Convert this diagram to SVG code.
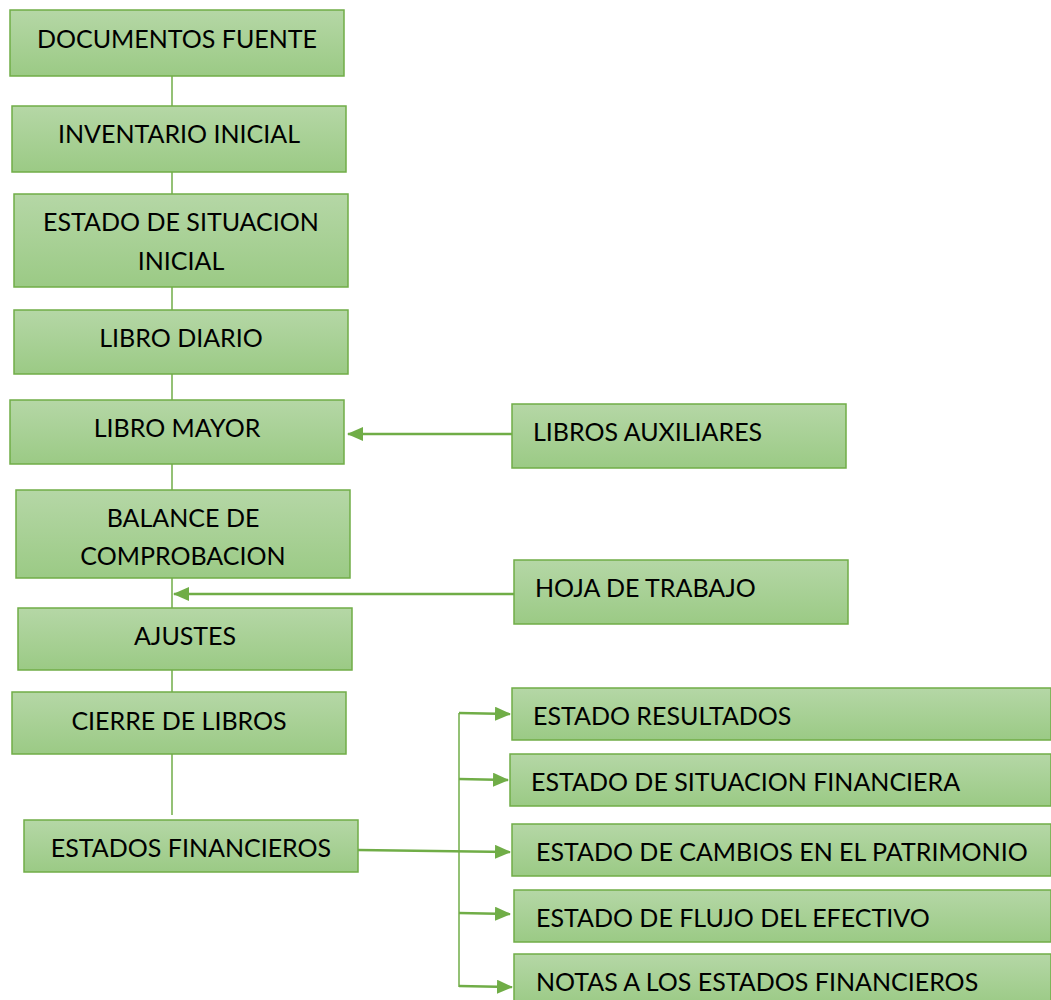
<svg xmlns="http://www.w3.org/2000/svg" width="1051" height="1000" viewBox="0 0 1051 1000">
<defs>
<linearGradient id="g" x1="0" y1="0" x2="0" y2="1">
<stop offset="0" stop-color="#b5d7a6"/>
<stop offset="1" stop-color="#9bca85"/>
</linearGradient>
<marker id="ah" markerWidth="16" markerHeight="14" refX="15" refY="7" orient="auto" markerUnits="userSpaceOnUse">
<path d="M0,0 L16,7 L0,14 Z" fill="#70ad47"/>
</marker>
</defs>
<style>
.box{fill:url(#g);stroke:#70ad47;stroke-width:1.5}
.t{font-family:Lato,"Open Sans","Liberation Sans",sans-serif;font-size:25px;fill:#000}
.c{text-anchor:middle}
.ln{stroke:#70ad47;stroke-width:1.5;fill:none}
.ar{stroke:#70ad47;stroke-width:2.5;fill:none;marker-end:url(#ah)}
</style>
<g id="connectors">
<line class="ln" x1="172" y1="76" x2="172" y2="106"/>
<line class="ln" x1="172" y1="172" x2="172" y2="194"/>
<line class="ln" x1="172" y1="287" x2="172" y2="310"/>
<line class="ln" x1="172" y1="374" x2="172" y2="400"/>
<line class="ln" x1="172" y1="464" x2="172" y2="490"/>
<line class="ln" x1="172" y1="578" x2="172" y2="608"/>
<line class="ln" x1="172" y1="670" x2="172" y2="692"/>
<line class="ln" x1="172" y1="754" x2="172" y2="815"/>
<path class="ar" d="M512,434 L348,434"/>
<path class="ar" d="M514,594 L174,594"/>
<line class="ln" x1="459" y1="713" x2="459" y2="987"/>
<path class="ar" d="M459,713 L510,714"/>
<path class="ar" d="M459,779 L508,780"/>
<path class="ar" d="M358,850 L510,852"/>
<path class="ar" d="M459,913 L510,914"/>
<path class="ar" d="M459,986 L512,987"/>
</g>
<g id="n1"><rect class="box" x="10" y="10" width="334" height="66"/><text class="t c" x="177" y="48">DOCUMENTOS FUENTE</text></g>
<g id="n2"><rect class="box" x="12" y="106" width="334" height="66"/><text class="t c" x="179" y="143">INVENTARIO INICIAL</text></g>
<g id="n3"><rect class="box" x="14" y="194" width="334" height="93"/><text class="t c" x="181" y="231">ESTADO DE SITUACION</text><text class="t c" x="181" y="270">INICIAL</text></g>
<g id="n4"><rect class="box" x="14" y="310" width="334" height="64"/><text class="t c" x="181" y="347">LIBRO DIARIO</text></g>
<g id="n5"><rect class="box" x="10" y="400" width="334" height="64"/><text class="t c" x="177" y="437">LIBRO MAYOR</text></g>
<g id="n6"><rect class="box" x="16" y="490" width="334" height="88"/><text class="t c" x="183" y="527">BALANCE DE</text><text class="t c" x="183" y="565">COMPROBACION</text></g>
<g id="n7"><rect class="box" x="18" y="608" width="334" height="62"/><text class="t c" x="185" y="645">AJUSTES</text></g>
<g id="n8"><rect class="box" x="12" y="692" width="334" height="62"/><text class="t c" x="179" y="730">CIERRE DE LIBROS</text></g>
<g id="n9"><rect class="box" x="24" y="820" width="334" height="52"/><text class="t c" x="191" y="857">ESTADOS FINANCIEROS</text></g>
<g id="n10"><rect class="box" x="512" y="404" width="334" height="64"/><text class="t" x="533" y="441">LIBROS AUXILIARES</text></g>
<g id="n11"><rect class="box" x="514" y="560" width="334" height="64"/><text class="t" x="535" y="597">HOJA DE TRABAJO</text></g>
<g id="n12"><rect class="box" x="512" y="688" width="539" height="52"/><text class="t" x="533" y="725">ESTADO RESULTADOS</text></g>
<g id="n13"><rect class="box" x="510" y="754" width="541" height="52"/><text class="t" x="531" y="791">ESTADO DE SITUACION FINANCIERA</text></g>
<g id="n14"><rect class="box" x="512" y="824" width="539" height="52"/><text class="t" x="536" y="861">ESTADO DE CAMBIOS EN EL PATRIMONIO</text></g>
<g id="n15"><rect class="box" x="514" y="890" width="537" height="52"/><text class="t" x="536" y="927">ESTADO DE FLUJO DEL EFECTIVO</text></g>
<g id="n16"><rect class="box" x="514" y="954" width="537" height="52"/><text class="t" x="536" y="991">NOTAS A LOS ESTADOS FINANCIEROS</text></g>
</svg>
